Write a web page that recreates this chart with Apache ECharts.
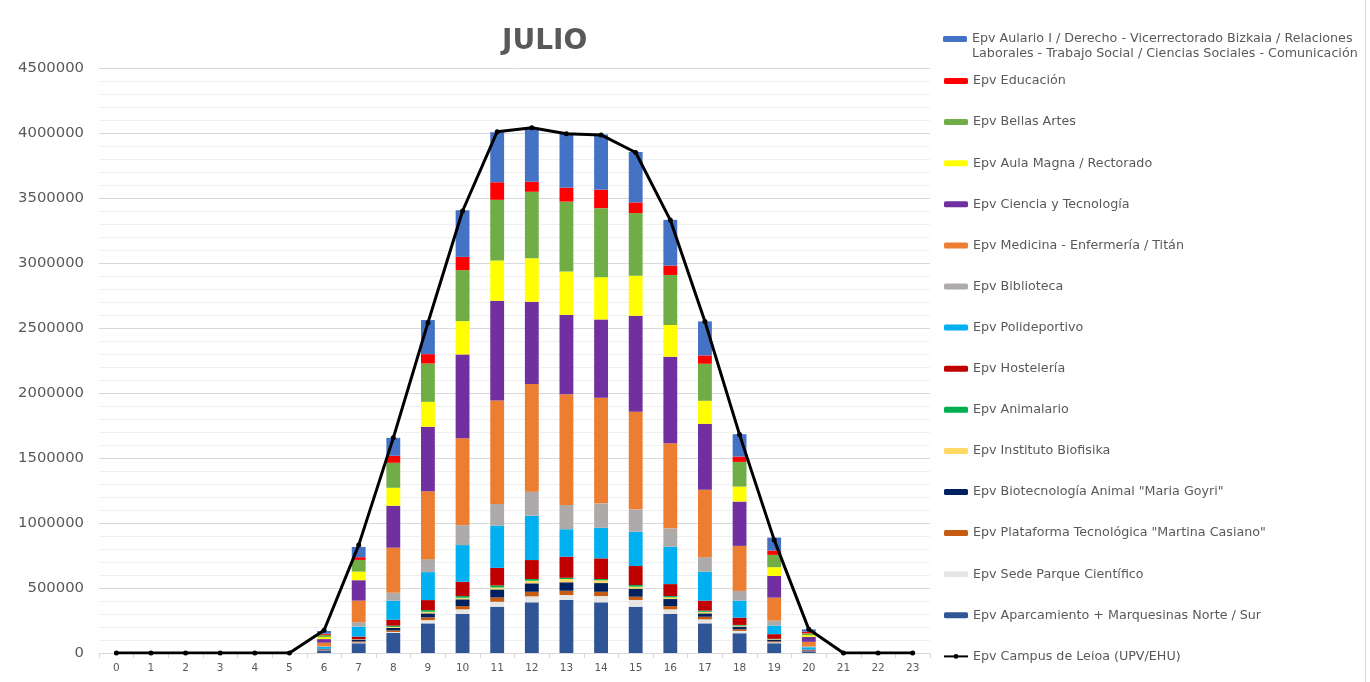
<!DOCTYPE html>
<html>
<head>
<meta charset="utf-8">
<title>JULIO</title>
<script src="https://cdn.jsdelivr.net/npm/echarts@6/dist/echarts.min.js"></script>
<style>
  html, body { margin: 0; padding: 0; background: #ffffff; }
  #chart { width: 1370px; height: 682px; }
</style>
</head>
<body>
<div id="chart"></div>
<script>
// Hours of the day (x axis categories)
const hours = ['0','1','2','3','4','5','6','7','8','9','10','11','12','13','14','15','16','17','18','19','20','21','22','23'];

// Hourly values per building (stacked bars, bottom to top)
const aparcamiento  = [0,0,0,0,0,0, 20000, 75000,154000,228000,300000,356000,390000,408000,390000,356000,300000,228000,152000, 75000,10000,0,0,0];
const sedeParque    = [0,0,0,0,0,0,  1000,  6000,  8000, 25000, 36000, 38000, 46000, 38000, 48000, 52000, 36000, 31000, 18000,  7000, 1000,0,0,0];
const plataforma    = [0,0,0,0,0,0,  2000,  8000, 12000, 21000, 25000, 33000, 35000, 33000, 33000, 25000, 25000, 20000, 13000,  8000, 2000,0,0,0];
const biotecnologia = [0,0,0,0,0,0,  4000, 12000, 19000, 31000, 52000, 62000, 65000, 65000, 67000, 62000, 54000, 26000, 20000, 12000, 5000,0,0,0];
const biofisika     = [0,0,0,0,0,0,  1000,  3000,  8000, 12000, 12000, 15000, 20000, 25000, 21000, 15000, 13000, 12000,  7000,  4000, 1000,0,0,0];
const animalario    = [0,0,0,0,0,0,  1000,  2000,  9000, 13000, 13000, 15000, 13000, 10000, 10000, 13000, 10000,  9000,  6000,  3000, 1000,0,0,0];
const hosteleria    = [0,0,0,0,0,0,  3000, 20000, 46000, 77000,110000,136000,146000,162000,159000,146000, 92000, 77000, 56000, 36000, 6000,0,0,0];
const polideportivo = [0,0,0,0,0,0, 15000, 77000,146000,215000,282000,325000,341000,211000,235000,264000,287000,223000,131000, 66000,18000,0,0,0];
const biblioteca    = [0,0,0,0,0,0,  4000, 34000, 62000,100000,154000,167000,185000,187000,188000,172000,142000,111000, 75000, 38000, 8000,0,0,0];
const medicina      = [0,0,0,0,0,0, 28000,166000,346000,523000,667000,795000,828000,852000,812000,751000,654000,518000,346000,177000,34000,0,0,0];
const ciencia       = [0,0,0,0,0,0, 28000,157000,323000,495000,646000,767000,633000,610000,603000,738000,666000,508000,341000,167000,38000,0,0,0];
const aulaMagna     = [0,0,0,0,0,0, 15000, 66000,138000,192000,256000,310000,334000,333000,325000,308000,244000,177000,115000, 67000,13000,0,0,0];
const bellasArtes   = [0,0,0,0,0,0, 18000, 90000,192000,295000,392000,467000,512000,538000,531000,482000,385000,285000,190000, 95000,15000,0,0,0];
const educacion     = [0,0,0,0,0,0,  8000, 21000, 54000, 72000,102000,135000, 77000,108000,142000, 82000, 72000, 64000, 41000, 33000,12000,0,0,0];
const aulario       = [0,0,0,0,0,0, 21000, 79000,138000,262000,359000,385000,411000,418000,425000,388000,352000,262000,172000,100000,18000,0,0,0];

// Campus total (line)
const campusLeioa   = [0,0,0,0,0,0,175000,830000,1655000,2540000,3400000,4010000,4040000,3995000,3985000,3850000,3330000,2550000,1680000,870000,182000,0,0,0];

// Y axis ticks
const yMin = 0, yMax = 4500000, yStep = 500000;

// Series names, bottom of stack first
const NAME_AULARIO = 'Epv Aulario I / Derecho - Vicerrectorado Bizkaia / Relaciones Laborales - Trabajo Social / Ciencias Sociales - Comunicación';
const barDefs = [
  ['Epv Aparcamiento + Marquesinas Norte / Sur', aparcamiento, '#2F5597'],
  ['Epv Sede Parque Científico', sedeParque, '#E7E6E6'],
  ['Epv Plataforma Tecnológica "Martina Casiano"', plataforma, '#C55A11'],
  ['Epv Biotecnología Animal "Maria Goyri"', biotecnologia, '#002060'],
  ['Epv Instituto Biofisika', biofisika, '#FFD966'],
  ['Epv Animalario', animalario, '#00B050'],
  ['Epv Hostelería', hosteleria, '#C00000'],
  ['Epv Polideportivo', polideportivo, '#00B0F0'],
  ['Epv Biblioteca', biblioteca, '#AEAAAA'],
  ['Epv Medicina - Enfermería / Titán', medicina, '#ED7D31'],
  ['Epv Ciencia y Tecnología', ciencia, '#7030A0'],
  ['Epv Aula Magna / Rectorado', aulaMagna, '#FFFF00'],
  ['Epv Bellas Artes', bellasArtes, '#70AD47'],
  ['Epv Educación', educacion, '#FF0000'],
  [NAME_AULARIO, aulario, '#4472C4']
];
const LINE_NAME = 'Epv Campus de Leioa (UPV/EHU)';

const FONT = 'DejaVu Sans, Verdana, sans-serif';
const TEXT = '#595959';

const series = barDefs.map(function (d) {
  return {
    name: d[0],
    type: 'bar',
    stack: 'total',
    barWidth: '40%',
    data: d[1],
    itemStyle: { color: d[2] },
    emphasis: { disabled: true }
  };
});
series.push({
  name: LINE_NAME,
  type: 'line',
  data: campusLeioa,
  z: 5,
  symbol: 'circle',
  symbolSize: 5,
  lineStyle: { color: '#000000', width: 3 },
  itemStyle: { color: '#000000' },
  emphasis: { disabled: true }
});

// Legend lists top of stack first, the line last
const legendRest = barDefs.slice(0, barDefs.length - 1).map(function (d) { return d[0]; }).reverse();
legendRest.push(LINE_NAME);

const legendText = { fontFamily: FONT, fontSize: 12.7, color: TEXT, lineHeight: 15 };

const chart = echarts.init(document.getElementById('chart'), null, { renderer: 'canvas' });
chart.setOption({
  animation: false,
  backgroundColor: '#ffffff',
  title: {
    text: 'JULIO',
    left: 497,
    top: 23,
    textStyle: { fontFamily: FONT, fontSize: 28, fontWeight: 'bold', color: TEXT }
  },
  legend: [
    {
      // long name wraps onto two lines; a leading blank line keeps the
      // swatch level with the first line of text
      orient: 'vertical',
      left: 943,
      top: 16.5,
      padding: 0,
      itemWidth: 24,
      itemHeight: 6,
      data: [NAME_AULARIO],
      formatter: function (n) { return '\n' + n.replace(' Laborales', '\nLaborales'); },
      textStyle: legendText,
      selectedMode: false
    },
    {
      orient: 'vertical',
      left: 943,
      top: 73.5,
      padding: 0,
      itemWidth: 24,
      itemHeight: 6,
      itemGap: 26.1,
      data: legendRest,
      textStyle: legendText,
      selectedMode: false
    }
  ],
  grid: { left: 99, right: 440, top: 68, bottom: 29, containLabel: false },
  xAxis: {
    type: 'category',
    data: hours,
    boundaryGap: true,
    axisLine: { lineStyle: { color: '#D9D9D9', width: 1 } },
    axisTick: { show: true, alignWithLabel: false, length: 5, lineStyle: { color: '#D9D9D9' } },
    axisLabel: { fontFamily: FONT, fontSize: 10.5, color: TEXT, margin: 10, interval: 0 }
  },
  yAxis: {
    type: 'value',
    min: yMin,
    max: yMax,
    interval: yStep,
    axisLine: { show: false },
    axisTick: { show: false },
    axisLabel: {
      fontFamily: FONT, fontSize: 14.8, color: TEXT, margin: 15,
      formatter: function (v) { return String(v); }
    },
    splitLine: { lineStyle: { color: '#D9D9D9', width: 1 } },
    minorTick: { show: false, splitNumber: 5 },
    minorSplitLine: { show: true, lineStyle: { color: '#F0F0F0', width: 1 } }
  },
  graphic: [
    {
      // chart frame edge on the right
      type: 'line',
      shape: { x1: 1365.5, y1: 0, x2: 1365.5, y2: 682 },
      style: { stroke: '#D9D9D9', lineWidth: 1 },
      silent: true
    }
  ],
  series: series
});
</script>
</body>
</html>
